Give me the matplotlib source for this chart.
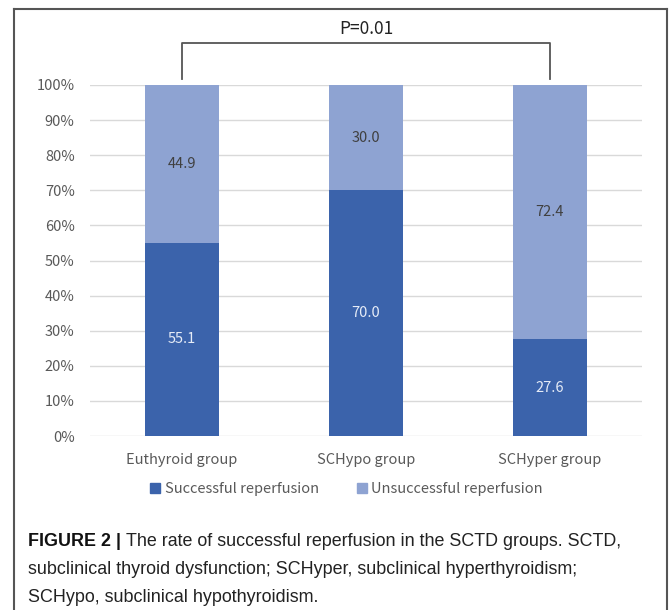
import matplotlib
matplotlib.use("Agg")
import matplotlib.pyplot as plt
from matplotlib.lines import Line2D
from matplotlib.patches import Patch

# data
groups = ["Euthyroid group", "SCHypo group", "SCHyper group"]
successful = [55.1, 70.0, 27.6]
unsuccessful = [44.9, 30.0, 72.4]
series_names = ["Successful reperfusion", "Unsuccessful reperfusion"]
p_text = "P=0.01"
caption_bold = "FIGURE 2 | "
caption_lines = [
    "The rate of successful reperfusion in the SCTD groups. SCTD,",
    "subclinical thyroid dysfunction; SCHyper, subclinical hyperthyroidism;",
    "SCHypo, subclinical hypothyroidism.",
]

DARK = "#3b63ab"
LIGHT = "#8ea3d2"
GRAY = "#595959"
chart_font = ["Noto Sans CJK KR", "DejaVu Sans"]

W, H = 669, 610
fig = plt.figure(figsize=(W / 100, H / 100), dpi=100)
fig.patch.set_facecolor("white")

# axes placed in pixel terms
left, right, top, bottom = 90, 642, 85, 436
ax = fig.add_axes([left / W, 1 - bottom / H, (right - left) / W, (bottom - top) / H])

x = list(range(len(groups)))
ax.bar(x, successful, width=0.4, color=DARK, zorder=3)
ax.bar(x, unsuccessful, width=0.4, bottom=successful, color=LIGHT, zorder=3)

for i in x:
    ax.text(i, successful[i] / 2, f"{successful[i]:.1f}", ha="center", va="center",
            fontsize=10.5, color="#e6ecf7", family=chart_font, zorder=4)
    ax.text(i, successful[i] + unsuccessful[i] / 2, f"{unsuccessful[i]:.1f}",
            ha="center", va="center", fontsize=10.5, color="#404040",
            family=chart_font, zorder=4)

ax.set_xlim(-0.5, 2.5)
ax.set_ylim(0, 100)
ax.set_yticks(range(0, 101, 10))
ax.set_yticklabels([f"{v}%" for v in range(0, 101, 10)])
ax.set_xticks(x)
ax.set_xticklabels(groups)
ax.yaxis.grid(True, color="#d9d9d9", linewidth=1, zorder=0)
for s in ax.spines.values():
    s.set_visible(False)
ax.tick_params(axis="both", length=0, colors=GRAY, labelsize=10.5)
ax.tick_params(axis="y", pad=11)
ax.tick_params(axis="x", pad=12)
for lab in ax.get_xticklabels() + ax.get_yticklabels():
    lab.set_family(chart_font)

# significance bracket between first and last group
ax.add_line(Line2D([0, 0, 2, 2], [101.7, 112, 112, 101.7], color="#555555",
                   linewidth=1.3, clip_on=False))
ax.text(1, 113.5, p_text, ha="center", va="bottom", fontsize=12.5,
        color="#222222", family=chart_font)

handles = [Patch(color=DARK), Patch(color=LIGHT)]
fig.legend(handles, series_names, loc="center", bbox_to_anchor=(0.518, 1 - 489 / H),
           ncol=2, frameon=False, handlelength=0.7, handleheight=0.7,
           handletextpad=0.3, columnspacing=2.6, labelcolor=GRAY,
           prop={"family": chart_font, "size": 10.5})

# caption
cap_x = 28 / W
cap_y = [1 - 541 / H, 1 - 569 / H, 1 - 597 / H]
cap_font = "Liberation Sans"
cap_size = 12.9
fig.canvas.draw()
r = fig.canvas.get_renderer()
tb = fig.text(cap_x, cap_y[0], caption_bold, fontsize=cap_size, fontweight="bold",
              family=cap_font, va="center", color="#111111")
bw = tb.get_window_extent(renderer=r).width / W
fig.text(cap_x + bw, cap_y[0], caption_lines[0], fontsize=cap_size, family=cap_font,
         va="center", color="#222222")
for line, yy in zip(caption_lines[1:], cap_y[1:]):
    fig.text(cap_x, yy, line, fontsize=cap_size, family=cap_font, va="center", color="#222222")

# frame around the figure
frame_kw = dict(color="#555555", linewidth=1.5, transform=fig.transFigure)
fig.add_artist(Line2D([13.5 / W, 13.5 / W], [0, 1 - 8.5 / H], **frame_kw))
fig.add_artist(Line2D([13.5 / W, 666.5 / W], [1 - 8.5 / H, 1 - 8.5 / H], **frame_kw))
fig.add_artist(Line2D([666.5 / W, 666.5 / W], [0, 1 - 8.5 / H], **frame_kw))

fig.savefig("out.png", dpi=100)
